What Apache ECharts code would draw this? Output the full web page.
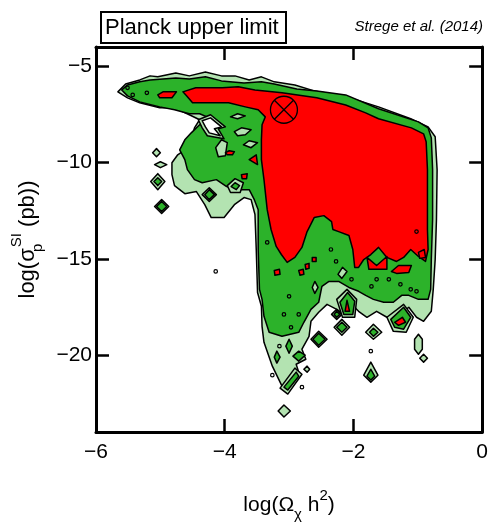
<!DOCTYPE html>
<html>
<head>
<meta charset="utf-8">
<script src="https://cdn.jsdelivr.net/npm/echarts@6/dist/echarts.min.js"></script>
<style>
  html, body { margin: 0; padding: 0; background: #fff; }
  #chart { width: 491px; height: 527px; }
</style>
</head>
<body>
<div id="chart"></div>
<script>
// axis ticks
var xTicks = [-6, -4, -2, 0];
var yTicks = [-20, -15, -10, -5];

// Planck upper limit marker (log Omega h^2, log sigma)
var planckPoint = [-3.08, -7.26];

// outer contour (light green), main region
var lightMain = [
  [-5.66, -6.33], [-5.54, -5.92], [-5.32, -5.71], [-5.16, -5.50], [-5.04, -5.55], [-4.76, -5.35],
  [-4.55, -5.50], [-4.30, -5.30], [-4.05, -5.50], [-3.84, -5.50], [-3.62, -5.71], [-3.43, -5.55],
  [-3.23, -5.81], [-2.91, -5.97], [-2.61, -6.28], [-2.15, -6.54],
  [-1.61, -7.11], [-1.11, -7.73], [-0.84, -8.15], [-0.73, -8.66], [-0.70, -10.37], [-0.71, -12.96],
  [-0.73, -15.04], [-0.76, -16.59], [-0.79, -17.73], [-0.91, -18.25], [-1.02, -18.04], [-1.14, -17.52],
  [-1.30, -17.94], [-1.48, -18.04], [-1.64, -17.73], [-1.79, -18.04], [-1.92, -17.73], [-2.04, -17.32],
  [-2.15, -17.89], [-2.26, -17.63], [-2.41, -17.37], [-2.54, -17.78], [-2.66, -18.25], [-2.69, -19.03],
  [-2.80, -19.70], [-2.74, -20.22], [-2.89, -20.48], [-2.85, -20.89], [-3.03, -21.67], [-3.11, -21.62],
  [-3.26, -20.58], [-3.39, -19.34], [-3.42, -18.51], [-3.43, -17.47], [-3.49, -16.75], [-3.51, -14.52],
  [-3.53, -12.70], [-3.59, -11.93], [-3.70, -11.82], [-3.85, -12.19], [-4.01, -12.86], [-4.21, -12.86],
  [-4.31, -12.19], [-4.44, -11.51], [-4.62, -11.62], [-4.78, -11.20], [-4.82, -10.63], [-4.82, -10.01],
  [-4.73, -9.60], [-4.62, -9.34], [-4.52, -8.82], [-4.47, -8.20], [-4.39, -7.78], [-4.55, -7.52],
  [-4.78, -7.16], [-5.01, -7.16], [-5.32, -6.90], [-5.51, -6.64]
];

// light green islands outside the main region
var lightIslands = [
  [[-5.15, -10.99], [-5.04, -10.58], [-4.93, -10.99], [-5.04, -11.41]],
  [[-5.09, -12.29], [-4.98, -11.93], [-4.87, -12.29], [-4.98, -12.65]],
  [[-5.12, -9.49], [-5.06, -9.28], [-5.00, -9.49], [-5.06, -9.70]],
  [[-5.09, -10.11], [-5.00, -9.96], [-4.90, -10.11], [-5.00, -10.27]],
  [[-4.35, -11.67], [-4.24, -11.31], [-4.13, -11.67], [-4.24, -12.03]],
  [[-2.66, -19.18], [-2.54, -18.77], [-2.41, -19.18], [-2.54, -19.60]],
  [[-2.30, -18.56], [-2.18, -18.15], [-2.06, -18.56], [-2.18, -18.97]],
  [[-2.34, -17.89], [-2.26, -17.63], [-2.18, -17.89], [-2.26, -18.15]],
  [[-1.81, -18.82], [-1.69, -18.40], [-1.56, -18.82], [-1.69, -19.18]],
  [[-1.05, -19.18], [-0.99, -18.92], [-0.93, -19.18], [-0.93, -19.70], [-0.99, -19.96], [-1.05, -19.70]],
  [[-0.97, -20.17], [-0.91, -19.96], [-0.85, -20.17], [-0.91, -20.37]],
  [[-1.84, -21.05], [-1.73, -20.37], [-1.62, -21.05], [-1.73, -21.41]],
  [[-3.17, -22.91], [-3.08, -22.60], [-2.98, -22.91], [-3.08, -23.22]],
  [[-3.14, -21.72], [-2.91, -20.68], [-2.80, -21.00], [-3.02, -22.03]],
  [[-2.77, -20.74], [-2.72, -20.58], [-2.68, -20.74], [-2.72, -20.89]],
  [[-2.26, -17.11], [-2.10, -16.59], [-1.95, -17.11], [-1.98, -18.04], [-2.17, -18.04]],
  [[-1.48, -18.04], [-1.22, -17.37], [-1.07, -18.04], [-1.18, -18.82], [-1.38, -18.77]]
];

// middle contour (green)
var greenMain = [
  [-5.60, -6.23], [-5.51, -5.97], [-5.32, -5.81], [-5.16, -5.71], [-4.76, -5.61], [-4.55, -5.66],
  [-4.30, -5.55], [-4.05, -5.76], [-3.70, -5.87], [-3.43, -5.81], [-3.23, -5.92], [-2.88, -6.18],
  [-2.57, -6.28], [-2.12, -6.49], [-1.61, -7.21], [-0.99, -7.89], [-0.84, -8.20],
  [-0.79, -8.72], [-0.77, -10.37], [-0.77, -12.96],
  [-0.79, -15.04], [-0.80, -16.59], [-0.84, -17.11], [-0.99, -17.11], [-1.14, -16.90], [-1.25, -16.90],
  [-1.38, -17.26], [-1.53, -17.26], [-1.69, -17.11], [-1.81, -16.90], [-1.92, -16.69], [-2.07, -16.49],
  [-2.23, -16.18], [-2.38, -16.18], [-2.49, -16.44], [-2.54, -17.26], [-2.66, -17.63], [-2.77, -18.30],
  [-2.85, -18.82], [-3.11, -19.03], [-3.31, -18.82], [-3.39, -17.99], [-3.42, -17.11], [-3.46, -16.59],
  [-3.48, -14.52], [-3.48, -12.45], [-3.54, -11.93], [-3.62, -11.41], [-3.77, -11.41], [-3.97, -11.25],
  [-4.13, -10.89], [-4.35, -11.05], [-4.47, -10.89], [-4.58, -10.37], [-4.62, -9.85], [-4.70, -9.34],
  [-4.62, -8.82], [-4.52, -8.46], [-4.39, -8.04], [-4.24, -7.68], [-4.39, -7.47], [-4.55, -7.47],
  [-4.78, -7.26], [-5.01, -7.11], [-5.32, -6.85], [-5.51, -6.54]
];

var greenIslands = [
  [[-5.10, -10.99], [-5.04, -10.79], [-4.98, -10.99], [-5.04, -11.20]],
  [[-5.06, -12.29], [-4.98, -12.03], [-4.90, -12.29], [-4.98, -12.55]],
  [[-4.31, -11.67], [-4.24, -11.41], [-4.16, -11.67], [-4.24, -11.93]],
  [[-2.63, -19.18], [-2.54, -18.87], [-2.44, -19.18], [-2.54, -19.49]],
  [[-2.26, -18.56], [-2.18, -18.30], [-2.10, -18.56], [-2.18, -18.82]],
  [[-2.30, -17.89], [-2.26, -17.73], [-2.21, -17.89], [-2.26, -18.04]],
  [[-1.75, -18.82], [-1.69, -18.61], [-1.62, -18.82], [-1.69, -19.03]],
  [[-1.79, -21.10], [-1.73, -20.74], [-1.67, -21.10], [-1.73, -21.30]],
  [[-3.08, -21.67], [-2.89, -20.89], [-2.85, -21.10], [-3.02, -21.82]],
  [[-3.23, -20.11], [-3.19, -19.80], [-3.14, -20.11], [-3.19, -20.42]],
  [[-3.05, -19.54], [-3.00, -19.18], [-2.95, -19.54], [-3.00, -19.91]],
  [[-2.94, -20.06], [-2.85, -19.80], [-2.75, -20.01], [-2.85, -20.32]],
  [[-2.21, -17.26], [-2.09, -16.75], [-1.98, -17.21], [-2.01, -17.89], [-2.15, -17.89]],
  [[-1.42, -18.15], [-1.22, -17.52], [-1.11, -18.04], [-1.22, -18.66], [-1.36, -18.56]]
];

// light green pockets inside the green region
var lightInGreen = [
  [[-3.91, -7.63], [-3.80, -7.47], [-3.68, -7.58], [-3.80, -7.73]],
  [[-3.85, -8.40], [-3.74, -8.20], [-3.59, -8.30], [-3.68, -8.56], [-3.80, -8.61]],
  [[-3.71, -9.08], [-3.62, -8.87], [-3.49, -8.97], [-3.59, -9.23]],
  [[-4.14, -9.23], [-4.05, -8.82], [-3.96, -8.97], [-3.99, -9.65], [-4.10, -9.70]],
  [[-3.96, -11.20], [-3.84, -10.84], [-3.71, -11.05], [-3.76, -11.56], [-3.91, -11.56]],
  [[-2.64, -16.49], [-2.60, -16.18], [-2.55, -16.49], [-2.60, -16.80]],
  [[-2.24, -15.81], [-2.17, -15.45], [-2.10, -15.66], [-2.18, -16.02]],
  [[-4.41, -7.78], [-4.22, -7.52], [-3.99, -8.15], [-4.10, -8.25], [-4.01, -8.77], [-4.27, -8.61], [-4.35, -8.20]]
];

var greenInLight = [
  [[-3.90, -11.25], [-3.84, -11.05], [-3.77, -11.20], [-3.82, -11.41]]
];

// empty notch between the upper arm and the blob
var emptyNotch = [
  [[-4.35, -7.83], [-4.22, -7.68], [-4.05, -8.15], [-4.16, -8.25], [-4.07, -8.61], [-4.24, -8.46], [-4.30, -8.15]]
];

// inner contour (red)
var redMain = [
  [-4.65, -6.33], [-4.45, -6.12], [-4.04, -6.12], [-3.79, -6.07], [-3.53, -6.23], [-3.11, -6.38],
  [-2.57, -6.64], [-2.12, -7.01], [-1.81, -7.42], [-1.61, -7.73], [-1.10, -8.20], [-0.91, -8.51],
  [-0.87, -8.92], [-0.85, -10.37], [-0.85, -13.48], [-0.84, -14.52], [-0.88, -15.14], [-0.99, -14.88],
  [-1.11, -14.52], [-1.22, -14.93], [-1.33, -15.14], [-1.48, -14.93], [-1.61, -14.41], [-1.73, -14.78],
  [-1.84, -15.04], [-1.92, -15.45], [-1.98, -15.45], [-2.01, -14.52], [-2.07, -13.79], [-2.23, -13.59],
  [-2.32, -13.48], [-2.34, -13.07], [-2.46, -12.76], [-2.61, -12.86], [-2.72, -13.59], [-2.80, -14.41],
  [-2.91, -14.93], [-3.03, -15.19], [-3.12, -14.78], [-3.20, -14.36], [-3.28, -13.48], [-3.34, -12.45],
  [-3.39, -10.89], [-3.43, -9.85], [-3.43, -8.82], [-3.42, -8.04], [-3.37, -7.63], [-3.48, -7.26],
  [-3.68, -7.11], [-3.94, -6.90], [-4.19, -6.90], [-4.50, -6.90], [-4.59, -6.54]
];

var redIslands = [
  [[-5.04, -6.49], [-4.96, -6.33], [-4.75, -6.33], [-4.82, -6.64], [-5.01, -6.64]],
  [[-3.99, -9.49], [-3.93, -9.39], [-3.85, -9.44], [-3.88, -9.60], [-3.96, -9.60]],
  [[-3.62, -9.85], [-3.51, -9.60], [-3.49, -10.11]],
  [[-3.74, -10.63], [-3.65, -10.58], [-3.66, -10.84], [-3.73, -10.84]],
  [[-1.79, -14.93], [-1.64, -15.35], [-1.48, -14.88], [-1.48, -15.55], [-1.76, -15.55]],
  [[-1.41, -15.66], [-1.30, -15.35], [-1.10, -15.35], [-1.14, -15.71], [-1.33, -15.76]],
  [[-0.99, -14.67], [-0.90, -14.52], [-0.88, -14.93], [-0.97, -14.98]],
  [[-3.23, -15.61], [-3.15, -15.55], [-3.14, -15.81], [-3.22, -15.86]],
  [[-2.85, -15.61], [-2.78, -15.55], [-2.77, -15.81], [-2.83, -15.86]],
  [[-2.75, -15.30], [-2.69, -15.24], [-2.69, -15.50], [-2.74, -15.55]],
  [[-2.64, -14.93], [-2.58, -14.93], [-2.58, -15.14], [-2.64, -15.14]],
  [[-2.13, -17.73], [-2.10, -17.16], [-2.06, -17.73]],
  [[-1.36, -18.30], [-1.24, -18.04], [-1.19, -18.30], [-1.30, -18.46]]
];

// tiny closed contours
var tinyContours = [
  [-5.51, -6.12], [-5.43, -6.49], [-5.21, -6.38], [-3.34, -14.15], [-2.35, -14.52], [-2.27, -15.14],
  [-3.00, -16.95], [-3.08, -17.89], [-2.85, -17.89], [-2.03, -16.07], [-1.64, -16.07], [-1.45, -16.07],
  [-1.72, -16.44], [-1.27, -16.33], [-1.11, -16.59], [-1.02, -16.69], [-1.02, -13.59], [-2.97, -18.56],
  [-3.15, -19.54], [-3.26, -21.05], [-2.80, -21.67], [-4.14, -15.66], [-1.73, -19.80]
];

var LIGHT = '#b3e3b1';
var GREEN = '#2cb22a';
var RED = '#ff0000';
var FONT = '"Liberation Sans", Arial, Helvetica, sans-serif';

function fmt(v) {
  return v < 0 ? '\u2212' + Math.abs(v) : String(v);
}

function polygonSeries(shapes, fill) {
  return {
    type: 'custom',
    coordinateSystem: 'cartesian2d',
    xAxisIndex: 0,
    yAxisIndex: 0,
    silent: true,
    clip: true,
    data: shapes.map(function (s) { return s[0]; }),
    encode: { x: 0, y: 1 },
    renderItem: function (params, api) {
      var pts = shapes[params.dataIndex].map(function (p) { return api.coord(p); });
      return {
        type: 'polygon',
        shape: { points: pts },
        style: { fill: fill, stroke: '#000', lineWidth: 1.5, lineJoin: 'round' }
      };
    }
  };
}

var chart = echarts.init(document.getElementById('chart'));

var axisLine = { onZero: false, lineStyle: { color: '#000', width: 3 } };
var axisTick = { inside: true, length: 13, lineStyle: { color: '#000', width: 2.5 } };

chart.setOption({
  animation: false,
  backgroundColor: '#fff',
  grid: { left: 96, right: 7, top: 47, bottom: 94 },
  graphic: [
    {
      type: 'rect',
      shape: { x: 101, y: 12, width: 185, height: 31 },
      style: { fill: '#fff', stroke: '#000', lineWidth: 2 }
    },
    {
      type: 'text',
      style: { x: 105, y: 28, text: 'Planck upper limit', font: '22px ' + FONT, fill: '#000', verticalAlign: 'middle' }
    },
    {
      type: 'text',
      style: { x: 483, y: 27, text: 'Strege et al. (2014)', font: 'italic 15px ' + FONT, fill: '#000', align: 'right', verticalAlign: 'middle' }
    }
  ],
  xAxis: [
    {
      type: 'value', min: -6, max: 0, interval: 2, position: 'bottom',
      axisLine: axisLine, axisTick: axisTick, splitLine: { show: false },
      axisLabel: { fontSize: 21, color: '#000', margin: 10, fontFamily: FONT, formatter: fmt },
      name: '{a|log(\u03A9}{sub|\u03C7}{a| h}{sup|2}{a|)}',
      nameLocation: 'middle', nameGap: 56,
      nameTextStyle: {
        color: '#000',
        rich: {
          a: { fontSize: 21, lineHeight: 34, fontFamily: FONT, color: '#000' },
          sub: { fontSize: 15, verticalAlign: 'bottom', fontFamily: FONT, color: '#000' },
          sup: { fontSize: 15, verticalAlign: 'top', fontFamily: FONT, color: '#000' }
        }
      }
    },
    {
      type: 'value', min: -6, max: 0, interval: 2, position: 'top',
      axisLine: axisLine, axisTick: axisTick, splitLine: { show: false },
      axisLabel: { show: false }
    }
  ],
  yAxis: [
    {
      type: 'value', min: -24, max: -4, position: 'left',
      axisLine: axisLine,
      axisTick: Object.assign({ customValues: yTicks }, axisTick),
      splitLine: { show: false },
      axisLabel: { customValues: yTicks, fontSize: 21, color: '#000', margin: 4, fontFamily: FONT, formatter: fmt },
      name: '{a|log(\u03C3}{sub|p}{sup|SI}{a| (pb))}',
      nameLocation: 'middle', nameGap: 48, nameRotate: 90,
      nameTextStyle: {
        color: '#000',
        rich: {
          a: { fontSize: 22, lineHeight: 36, fontFamily: FONT, color: '#000' },
          sub: { fontSize: 15, verticalAlign: 'bottom', width: 1, fontFamily: FONT, color: '#000' },
          sup: { fontSize: 15, verticalAlign: 'top', fontFamily: FONT, color: '#000' }
        }
      }
    },
    {
      type: 'value', min: -24, max: -4, position: 'right',
      axisLine: axisLine,
      axisTick: Object.assign({ customValues: yTicks }, axisTick),
      splitLine: { show: false },
      axisLabel: { show: false }
    }
  ],
  series: [
    polygonSeries([lightMain].concat(lightIslands), LIGHT),
    polygonSeries([greenMain].concat(greenIslands), GREEN),
    polygonSeries(lightInGreen, LIGHT),
    polygonSeries(greenInLight, GREEN),
    polygonSeries(emptyNotch, '#fff'),
    polygonSeries([redMain].concat(redIslands), RED),
    {
      type: 'scatter',
      silent: true,
      data: tinyContours,
      symbol: 'circle',
      symbolSize: 3.5,
      itemStyle: { color: 'rgba(0,0,0,0)', borderColor: '#000', borderWidth: 1.2, opacity: 1 }
    },
    {
      type: 'custom',
      silent: true,
      data: [planckPoint],
      encode: { x: 0, y: 1 },
      renderItem: function (params, api) {
        var c = api.coord([api.value(0), api.value(1)]);
        var r = 13.5, d = r * Math.SQRT1_2;
        var st = { stroke: '#000', lineWidth: 1.3, fill: null };
        return {
          type: 'group',
          children: [
            { type: 'circle', shape: { cx: c[0], cy: c[1], r: r }, style: st },
            { type: 'line', shape: { x1: c[0] - d, y1: c[1] - d, x2: c[0] + d, y2: c[1] + d }, style: st },
            { type: 'line', shape: { x1: c[0] - d, y1: c[1] + d, x2: c[0] + d, y2: c[1] - d }, style: st }
          ]
        };
      }
    }
  ]
});
</script>
</body>
</html>
